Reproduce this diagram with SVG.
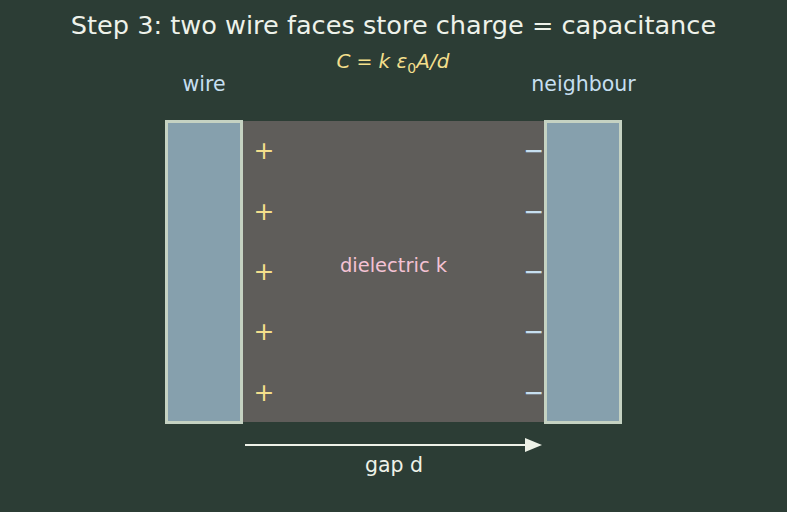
<svg xmlns="http://www.w3.org/2000/svg" width="787" height="512" viewBox="0 0 787 512">
<defs>
<style>
text{font-family:"DejaVu Sans","Liberation Sans",sans-serif;text-anchor:middle}
.plate{fill:#86a0ad;stroke:#c5d2c2;stroke-width:3}
.plus{fill:#f3df8c;font-size:25px}
.minus{fill:#c6dff0;font-size:25px}
.lbl{fill:#c6dff0;font-size:20.5px}
</style>
</defs>
<rect width="787" height="512" fill="#2c3d35"/>
<text x="393.5" y="34" font-size="25.6" fill="#eef2ea">Step 3: two wire faces store charge = capacitance</text>
<text x="393" y="68" font-size="20" fill="#f3df8c" font-style="italic">C<tspan font-style="normal" font-size="19"> = </tspan>k ε<tspan font-size="14" dy="5" font-style="normal">0</tspan><tspan dy="-5">A/d</tspan></text>
<g id="dielectric">
<rect x="242" y="121" width="303" height="301" fill="#5f5d5a"/>
<text x="393.5" y="272" font-size="19.5" fill="#f4c2d4">dielectric k</text>
</g>
<g id="wire">
<rect class="plate" x="166.5" y="121.5" width="75" height="301"/>
<text class="lbl" x="204" y="91">wire</text>
<text class="plus" x="264" y="159">+</text>
<text class="plus" x="264" y="220">+</text>
<text class="plus" x="264" y="280">+</text>
<text class="plus" x="264" y="340">+</text>
<text class="plus" x="264" y="401">+</text>
</g>
<g id="neighbour">
<rect class="plate" x="545.5" y="121.5" width="75" height="301"/>
<text class="lbl" x="583.5" y="91">neighbour</text>
<text class="minus" x="534" y="159">−</text>
<text class="minus" x="534" y="220">−</text>
<text class="minus" x="534" y="280">−</text>
<text class="minus" x="534" y="340">−</text>
<text class="minus" x="534" y="401">−</text>
</g>
<g id="connectors">
<line x1="245" y1="445" x2="528" y2="445" stroke="#eef2e8" stroke-width="2.2"/>
<polygon points="525,438 542,445 525,452" fill="#eef2e8"/>
<text x="394" y="472" font-size="20.5" fill="#eef2e8">gap d</text>
</g>
</svg>
